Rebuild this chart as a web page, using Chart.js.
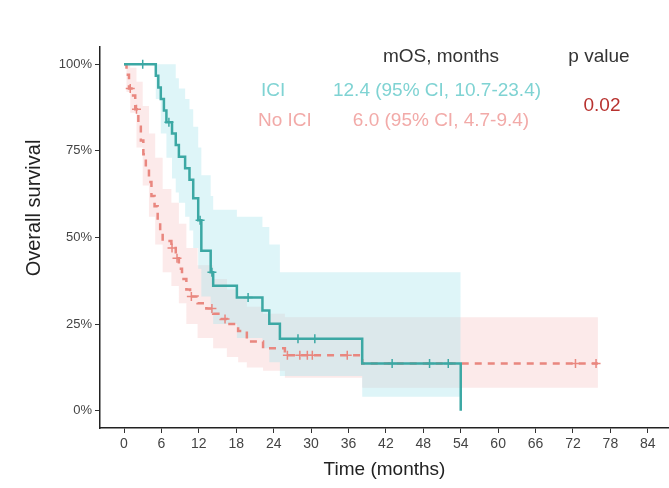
<!DOCTYPE html>
<html lang="en">
<head>
  <meta charset="UTF-8">
  <title>Overall survival - ICI vs No ICI</title>
  <script src="https://cdn.jsdelivr.net/npm/chart.js"></script>
  <style>
    * { margin: 0; padding: 0; box-sizing: border-box; }
    body { background: #fff; overflow: hidden; }
    canvas { display: block; }
  </style>
</head>
<body>
  <canvas id="kmChart" width="669" height="488"></canvas>

  <script>
    // x axis ticks (months) and y axis ticks (survival fraction)
    const xTicks = [0, 6, 12, 18, 24, 30, 36, 42, 48, 54, 60, 66, 72, 78, 84];
    const yTicks = [0, 0.25, 0.5, 0.75, 1];

    // ICI arm - Kaplan-Meier steps
    const iciTimes = [0, 5.1, 5.5, 5.9, 6.4, 6.8, 7.7, 8.3, 8.8, 9.8, 10.5, 11.1, 11.9, 12.4, 13.9, 14.3, 18.1, 22.2, 23.3, 25.0, 38.2, 54.0];
    const iciSurv  = [1, .967, .933, .90, .867, .833, .80, .767, .733, .70, .667, .613, .55, .462, .40, .361, .327, .289, .251, .208, .136, 0];
    const iciCensorTimes = [3.0, 7.2, 12.2, 14.1, 19.9, 27.9, 30.6, 43.0, 49.0, 52.0];
    const iciCensorSurv  = [1, .833, .55, .40, .327, .208, .208, .136, .136, .136];
    const iciBandTimes = [0, 5.1, 5.9, 6.8, 7.7, 8.3, 8.8, 9.8, 10.5, 11.1, 11.9, 12.4, 13.9, 14.3, 18.1, 22.2, 23.3, 25.0, 38.2, 54.0];
    const iciUpper = [1, 1, 1, 1, 1, .96, .93, .90, .87, .82, .76, .68, .62, .58, .56, .53, .48, .40, .40, .40];
    const iciLower = [1, .90, .80, .73, .67, .63, .60, .56, .52, .47, .41, .33, .28, .25, .21, .18, .14, .10, .04, .04];

    // No ICI arm - Kaplan-Meier steps
    const noIciTimes = [0, 0.4, 0.8, 1.2, 1.8, 2.3, 2.7, 3.1, 3.5, 4.0, 4.4, 4.9, 5.4, 5.8, 6.2, 7.6, 8.3, 8.8, 9.3, 10.0, 10.6, 11.8, 13.2, 14.3, 15.5, 16.5, 18.3, 19.7, 22.3, 25.8, 38.2, 76.0];
    const noIciSurv  = [1, .97, .93, .91, .87, .82, .78, .74, .70, .66, .62, .59, .55, .52, .49, .47, .44, .41, .38, .35, .33, .31, .295, .28, .265, .25, .23, .20, .18, .16, .136, .136];
    const noIciCensorTimes = [1.0, 2.0, 7.7, 8.5, 10.8, 14.1, 16.2, 26.2, 28.2, 29.4, 30.2, 35.8, 72.4, 75.7];
    const noIciCensorSurv  = [.93, .87, .47, .44, .33, .295, .265, .16, .16, .16, .16, .16, .136, .136];
    const noIciBandTimes = [0, 0.4, 1.0, 2.0, 3.0, 4.0, 5.0, 6.2, 7.6, 8.8, 10.0, 11.8, 14.3, 16.5, 18.3, 19.7, 22.3, 25.8, 38.2, 76.0];
    const noIciUpper = [1, 1, .99, .95, .88, .80, .73, .64, .60, .54, .47, .42, .38, .35, .33, .30, .28, .27, .27, .27];
    const noIciLower = [1, .92, .86, .76, .65, .56, .48, .40, .36, .31, .25, .21, .18, .155, .14, .125, .115, .095, .066, .066];

    const TEAL = '#3ca8a4';
    const SALMON = '#e9877f';

    function pts(xs, ys) {
      return xs.map((x, i) => ({ x: x, y: ys[i] }));
    }

    // header text, survival stats and the rotated y title
    const labelsPlugin = {
      id: 'labels',
      afterDraw(chart) {
        const ctx = chart.ctx;
        ctx.save();
        ctx.textBaseline = 'middle';
        ctx.font = '19px "Liberation Sans", Arial, sans-serif';

        ctx.textAlign = 'center';
        ctx.fillStyle = '#333';
        ctx.fillText('mOS, months', 441, 57);
        ctx.fillText('p value', 599, 57);

        ctx.fillStyle = '#7fd3d3';
        ctx.textAlign = 'left';
        ctx.fillText('ICI', 261, 91);
        ctx.textAlign = 'center';
        ctx.fillText('12.4 (95% CI, 10.7-23.4)', 437, 91);

        ctx.fillStyle = '#f2aaa8';
        ctx.textAlign = 'left';
        ctx.fillText('No ICI', 258, 121);
        ctx.textAlign = 'center';
        ctx.fillText('6.0 (95% CI, 4.7-9.4)', 441, 121);

        ctx.fillStyle = '#b8322f';
        ctx.fillText('0.02', 602, 106);

        ctx.translate(34, 208);
        ctx.rotate(-Math.PI / 2);
        ctx.fillStyle = '#222';
        ctx.font = '20px "Liberation Sans", Arial, sans-serif';
        ctx.fillText('Overall survival', 0, 0);
        ctx.restore();
      }
    };

    const ctx = document.getElementById('kmChart').getContext('2d');
    const kmChart = new Chart(ctx, {
      type: 'line',
      data: {
        datasets: [
          {
            label: 'ICI censored',
            data: pts(iciCensorTimes, iciCensorSurv),
            showLine: false,
            pointStyle: 'cross',
            pointRadius: 4.5,
            pointBorderWidth: 1.5,
            borderColor: TEAL,
            order: 0
          },
          {
            label: 'No ICI censored',
            data: pts(noIciCensorTimes, noIciCensorSurv),
            showLine: false,
            pointStyle: 'cross',
            pointRadius: 4.5,
            pointBorderWidth: 1.5,
            borderColor: SALMON,
            order: 1
          },
          {
            label: 'ICI',
            data: pts(iciTimes, iciSurv),
            stepped: 'before',
            borderColor: TEAL,
            borderWidth: 2.5,
            pointRadius: 0,
            fill: false,
            order: 2
          },
          {
            label: 'No ICI',
            data: pts(noIciTimes, noIciSurv),
            stepped: 'before',
            borderColor: SALMON,
            borderWidth: 2.5,
            borderDash: [7, 6],
            pointRadius: 0,
            fill: false,
            order: 3
          },
          {
            label: 'ICI upper',
            data: pts(iciBandTimes, iciUpper),
            stepped: 'before',
            borderWidth: 0,
            pointRadius: 0,
            backgroundColor: 'rgba(160, 225, 235, 0.35)',
            fill: '+1',
            order: 4
          },
          {
            label: 'ICI lower',
            data: pts(iciBandTimes, iciLower),
            stepped: 'before',
            borderWidth: 0,
            pointRadius: 0,
            fill: false,
            order: 5
          },
          {
            label: 'No ICI upper',
            data: pts(noIciBandTimes, noIciUpper),
            stepped: 'before',
            borderWidth: 0,
            pointRadius: 0,
            backgroundColor: 'rgba(245, 170, 170, 0.25)',
            fill: '+1',
            order: 6
          },
          {
            label: 'No ICI lower',
            data: pts(noIciBandTimes, noIciLower),
            stepped: 'before',
            borderWidth: 0,
            pointRadius: 0,
            fill: false,
            order: 7
          }
        ]
      },
      options: {
        responsive: false,
        animation: false,
        devicePixelRatio: 1,
        layout: { autoPadding: false, padding: { top: 47, right: 0, left: 0, bottom: 0 } },
        plugins: {
          legend: { display: false },
          tooltip: { enabled: false }
        },
        scales: {
          x: {
            type: 'linear',
            min: -3.85,
            max: 87.4,
            afterBuildTicks: (s) => { s.ticks = xTicks.map(v => ({ value: v })); },
            afterFit: (s) => { s.height = 60; s.paddingLeft = 0; s.paddingRight = 0; },
            border: { color: '#222', width: 1.5 },
            grid: { drawOnChartArea: false, drawTicks: true, tickLength: 5, color: '#333' },
            ticks: {
              color: '#444',
              padding: 3,
              maxRotation: 0,
              font: { family: '"Liberation Sans", Arial, sans-serif', size: 14 }
            },
            title: {
              display: true,
              text: 'Time (months)',
              color: '#222',
              padding: { top: 0, bottom: 7 },
              font: { family: '"Liberation Sans", Arial, sans-serif', size: 19 }
            }
          },
          y: {
            type: 'linear',
            min: -0.05,
            max: 1.05,
            afterBuildTicks: (s) => { s.ticks = yTicks.map(v => ({ value: v })); },
            afterFit: (s) => { s.width = 100; s.paddingTop = 0; s.paddingBottom = 0; },
            border: { color: '#222', width: 1.5 },
            grid: { drawOnChartArea: false, drawTicks: true, tickLength: 5, color: '#333' },
            ticks: {
              color: '#444',
              padding: 3,
              font: { family: '"Liberation Sans", Arial, sans-serif', size: 13 },
              callback: (v) => Math.round(v * 100) + '%'
            }
          }
        }
      },
      plugins: [labelsPlugin]
    });
  </script>
</body>
</html>
